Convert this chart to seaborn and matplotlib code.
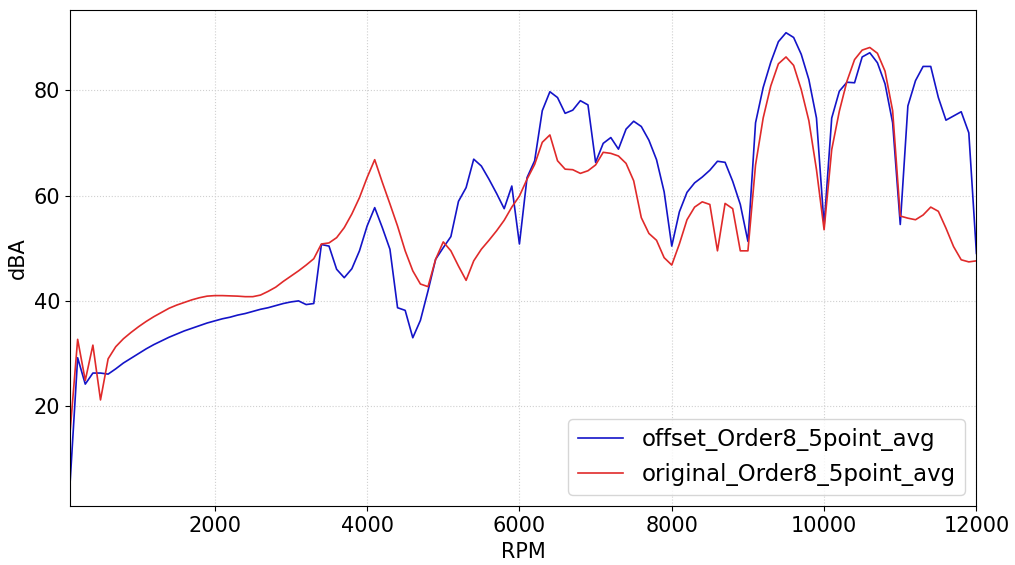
import numpy as np
import pandas as pd
import seaborn as sns
import matplotlib.pyplot as plt

rpm = np.arange(100, 12100, 100)

offset_avg = [
    5.3, 29.2, 24.2, 26.3, 26.3, 26.1, 27.1, 28.2, 29.1, 30.0,
    30.9, 31.7, 32.4, 33.1, 33.7, 34.3, 34.8, 35.3, 35.8, 36.2,
    36.6, 36.9, 37.3, 37.6, 38.0, 38.4, 38.7, 39.1, 39.5, 39.8,
    40.0, 39.3, 39.5, 50.7, 50.4, 46.0, 44.4, 46.1, 49.5, 54.2,
    57.7, 53.9, 49.8, 38.7, 38.2, 33.0, 36.3, 41.9, 47.9, 50.1,
    52.2, 58.9, 61.5, 66.9, 65.6, 63.1, 60.4, 57.5, 61.8, 50.8,
    63.4, 66.6, 76.1, 79.7, 78.6, 75.6, 76.2, 78.0, 77.2, 66.3,
    69.9, 71.0, 68.8, 72.6, 74.1, 73.1, 70.5, 66.8, 60.7, 50.4,
    56.9, 60.6, 62.4, 63.5, 64.8, 66.5, 66.3, 62.7, 58.3, 51.3,
    73.8, 80.5, 85.3, 89.2, 90.9, 90.0, 86.8, 82.0, 74.7, 54.3,
    74.7, 79.8, 81.5, 81.4, 86.3, 87.1, 85.2, 81.2, 73.8, 54.5,
    77.0, 81.8, 84.5, 84.5, 78.6, 74.3, 75.1, 75.9, 71.9, 49.0,
]

original_avg = [
    15.0, 32.7, 24.9, 31.6, 21.2, 29.0, 31.3, 32.8, 34.0, 35.1,
    36.1, 37.0, 37.8, 38.6, 39.2, 39.7, 40.2, 40.6, 40.9, 41.0,
    41.0, 40.95, 40.9, 40.8, 40.8, 41.1, 41.8, 42.6, 43.7, 44.7,
    45.7, 46.8, 48.0, 50.8, 51.0, 52.0, 53.9, 56.5, 59.6, 63.4,
    66.8, 62.5, 58.4, 54.2, 49.5, 45.7, 43.2, 42.7, 47.9, 51.2,
    49.5, 46.6, 43.9, 47.6, 49.8, 51.5, 53.3, 55.3, 57.8, 59.9,
    63.1, 65.9, 70.1, 71.5, 66.6, 65.0, 64.9, 64.2, 64.7, 65.8,
    68.2, 68.0, 67.5, 66.1, 62.8, 55.8, 52.8, 51.5, 48.2, 46.8,
    50.8, 55.4, 57.8, 58.8, 58.3, 49.5, 58.5, 57.5, 49.5, 49.5,
    65.8, 74.7, 80.8, 85.0, 86.3, 84.7, 80.1, 74.2, 64.9, 53.5,
    68.7, 76.0, 81.7, 85.8, 87.6, 88.1, 87.0, 83.6, 76.1, 56.1,
    55.7, 55.4, 56.3, 57.8, 57.0, 53.8, 50.3, 47.8, 47.4, 47.6,
]

df = pd.DataFrame({
    'RPM': np.concatenate([rpm, rpm]),
    'dBA': offset_avg + original_avg,
    'series': ['offset_Order8_5point_avg'] * len(rpm) + ['original_Order8_5point_avg'] * len(rpm),
})

fig, ax = plt.subplots(figsize=(10.15, 5.65), dpi=100)
sns.lineplot(data=df, x='RPM', y='dBA', hue='series',
             palette={'offset_Order8_5point_avg': '#1414c8',
                      'original_Order8_5point_avg': '#e02a2a'},
             linewidth=1.2, ax=ax)

ax.set_xlim(100, 12000)
ax.grid(True, linestyle=':', color='#d0d0d0', linewidth=0.8)
ax.set_xlabel('RPM', fontsize=15)
ax.set_ylabel('dBA', fontsize=15)
ax.tick_params(labelsize=15)
ax.legend(loc='lower right', fontsize=16.5)

plt.subplots_adjust(left=0.069, right=0.962, top=0.982, bottom=0.104)
plt.savefig('out.png')
